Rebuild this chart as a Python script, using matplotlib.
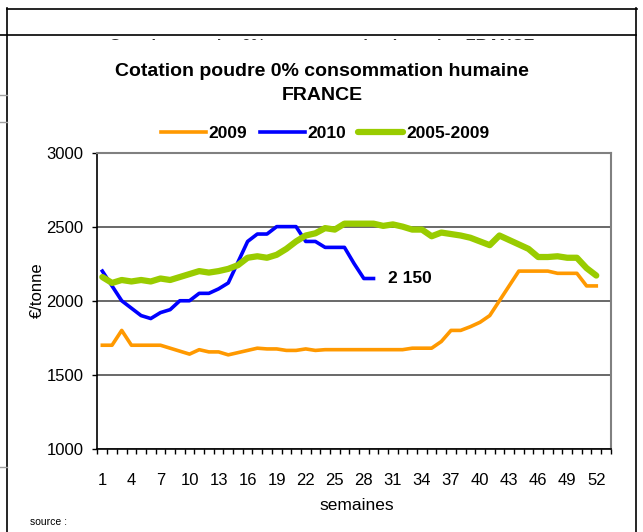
import numpy as np
import matplotlib.pyplot as plt
from matplotlib.patches import Rectangle

plt.rcParams['font.family'] = ['Liberation Sans', 'DejaVu Sans']

# weekly quotations, EUR / tonne
weeks = np.arange(1, 54)
tick_weeks = np.arange(1, 53, 3)

prix_2009 = [1700, 1700, 1800, 1700, 1700, 1700, 1700, 1680, 1660, 1640,
             1670, 1655, 1655, 1635, 1650, 1665, 1680, 1675, 1675, 1665,
             1665, 1675, 1665, 1670, 1670, 1670, 1670, 1670, 1670, 1670,
             1670, 1670, 1680, 1680, 1680, 1725, 1800, 1800, 1825, 1855,
             1900, 2000, 2100, 2200, 2200, 2200, 2200, 2185, 2185, 2185,
             2100, 2100]
prix_2010 = [2200, 2100, 2000, 1950, 1900, 1880, 1920, 1940, 2000, 2000,
             2050, 2050, 2080, 2120, 2260, 2400, 2450, 2450, 2500, 2500,
             2500, 2400, 2400, 2360, 2360, 2360, 2250, 2150, 2150]
moy_2005_2009 = [2160, 2120, 2140, 2130, 2140, 2130, 2150, 2140, 2160, 2180,
                 2200, 2190, 2200, 2215, 2240, 2290, 2300, 2290, 2310, 2350,
                 2400, 2440, 2455, 2490, 2480, 2520, 2520, 2520, 2520, 2505,
                 2515, 2500, 2480, 2480, 2435, 2460, 2450, 2440, 2425, 2400,
                 2375, 2440, 2410, 2380, 2350, 2295, 2295, 2300, 2290, 2290,
                 2220, 2170]

W, H = 643, 532
fig = plt.figure(figsize=(W / 100, H / 100), dpi=100)

# page decorations (frames around the embedded Excel chart)
deco = fig.add_axes([0, 0, 1, 1])
deco.set_xlim(0, W)
deco.set_ylim(H, 0)
deco.axis('off')
deco.plot([7, 637], [8.5, 8.5], color='black', lw=1.2)
deco.plot([0, 636], [35, 35], color='black', lw=1.2)
deco.plot([7.3, 7.3], [8, H], color='black', lw=1.2)
deco.plot([636, 636], [8, H], color='black', lw=1.2)
for yy in (95, 122, 467):
    deco.plot([0, 7], [yy, yy], color='#a0a0a0', lw=1)
# title of the chart hidden behind this one, only its top shows
hidden = deco.text(322, 47, 'Cotation poudre 0% consommation humaine FRANCE',
                   ha='center', va='center', fontsize=12, fontweight='bold',
                   color='#333333')
hidden.set_clip_path(Rectangle((0, 36), W, 3.5, transform=deco.transData))
hidden.set_clip_on(True)

# chart
ax = fig.add_axes([97.5 / W, 1 - 449 / H, (610.8 - 97.5) / W, (449 - 152.5) / H])
ax.plot(weeks[:len(prix_2009)], prix_2009, color='#FF9900', lw=2.6,
        solid_joinstyle='round', label='2009')
ax.plot(weeks[:len(prix_2010)], prix_2010, color='#0000FF', lw=2.6,
        solid_joinstyle='round', label='2010')
ax.plot(weeks[:len(moy_2005_2009)], moy_2005_2009, color='#99CC00', lw=4.5,
        solid_joinstyle='round', solid_capstyle='round', label='2005-2009')

ax.annotate(f"{prix_2010[-1] // 1000} {prix_2010[-1] % 1000}",
            xy=(len(prix_2010), prix_2010[-1]), xytext=(14, 0),
            textcoords='offset pixels', ha='left', va='center',
            fontsize=12.5, fontweight='bold')

ax.set_xlim(0.5, 53.5)
ax.set_ylim(1000, 3000)
ax.set_yticks(np.arange(1000, 3001, 500))
ax.yaxis.grid(True, color='#404040', lw=1.1)
ax.set_axisbelow(True)
ax.set_xticks(tick_weeks)
ax.set_xticklabels([str(w) for w in tick_weeks])
ax.set_xticks(np.arange(0.5, 54, 1), minor=True)
ax.tick_params(axis='x', which='major', length=0, labelsize=12, pad=17)
ax.tick_params(axis='x', which='minor', length=3.6, width=1, color='black')
ax.tick_params(axis='y', length=3.5, width=1, labelsize=12, pad=6.5)
for side in ('top', 'right'):
    ax.spines[side].set_color('#808080')
    ax.spines[side].set_linewidth(1.5)
for side in ('left', 'bottom'):
    ax.spines[side].set_color('black')
    ax.spines[side].set_linewidth(1.2)

fig.text(322 / W, 1 - 72 / H, 'Cotation poudre 0% consommation humaine',
         ha='center', va='center', fontsize=14, fontweight='bold')
fig.text(322 / W, 1 - 96 / H, 'FRANCE',
         ha='center', va='center', fontsize=14, fontweight='bold')
fig.legend(loc='center', bbox_to_anchor=(325 / W, 1 - 133 / H), ncol=3,
           frameon=False, prop={'weight': 'bold', 'size': 12.5},
           handlelength=2.6, handletextpad=0.15, columnspacing=0.7,
           borderpad=0)
fig.text(37 / W, 1 - 290 / H, '€/tonne', rotation=90,
         ha='center', va='center', fontsize=12)
fig.text(357 / W, 1 - 505 / H, 'semaines', ha='center', va='center', fontsize=12.5)
fig.text(30 / W, 1 - 522 / H, 'source :', ha='left', va='center', fontsize=7.5)

fig.savefig('out.png', dpi=100)
